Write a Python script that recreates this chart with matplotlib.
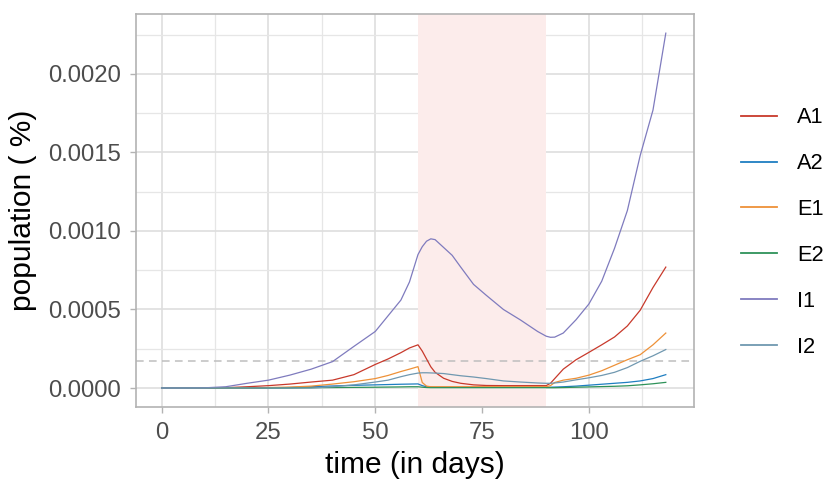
import numpy as np
import matplotlib
matplotlib.use("Agg")
import matplotlib.pyplot as plt
from matplotlib.ticker import MultipleLocator

# ---------- Data (values in units of 1e-4 of the population) ----------
days = [0, 5, 10, 15, 20, 25, 30, 35, 40, 45, 50, 53, 56, 58, 60, 61, 62, 63,
        64, 66, 68, 70, 73, 76, 80, 84, 88, 90, 91, 92, 94, 97, 100, 103, 106,
        109, 112, 115, 118]

a1 = [0, 0, 0, 0.02, 0.08, 0.15, 0.25, 0.38, 0.5, 0.85, 1.5, 1.85, 2.25, 2.55,
      2.75, 2.35, 1.85, 1.35, 1.0, 0.62, 0.42, 0.3, 0.2, 0.16, 0.15, 0.15,
      0.15, 0.15, 0.3, 0.6, 1.2, 1.8, 2.27, 2.75, 3.25, 3.95, 4.95, 6.4, 7.7]
a2 = [0, 0, 0, 0, 0, 0, 0.03, 0.08, 0.13, 0.17, 0.2, 0.22, 0.24, 0.25, 0.26,
      0.15, 0.08, 0.06, 0.05, 0.05, 0.05, 0.05, 0.05, 0.05, 0.05, 0.05, 0.05,
      0.05, 0.05, 0.06, 0.08, 0.12, 0.18, 0.24, 0.3, 0.36, 0.45, 0.6, 0.85]
e1 = [0, 0, 0, 0, 0, 0.03, 0.06, 0.12, 0.25, 0.4, 0.6, 0.8, 1.05, 1.2, 1.36,
      0.35, 0.12, 0.08, 0.08, 0.08, 0.08, 0.08, 0.08, 0.08, 0.08, 0.08, 0.08,
      0.08, 0.15, 0.35, 0.5, 0.62, 0.82, 1.1, 1.45, 1.8, 2.12, 2.75, 3.5]
e2 = [0, 0, 0, 0, 0, 0, 0, 0.02, 0.03, 0.04, 0.05, 0.06, 0.07, 0.08, 0.08,
      0.05, 0.03, 0.02, 0.02, 0.02, 0.02, 0.02, 0.02, 0.02, 0.02, 0.02, 0.02,
      0.02, 0.02, 0.02, 0.03, 0.05, 0.07, 0.09, 0.11, 0.14, 0.2, 0.27, 0.36]
i1 = [0, 0, 0.01, 0.08, 0.3, 0.5, 0.82, 1.2, 1.68, 2.65, 3.6, 4.6, 5.6, 6.75,
      8.5, 9.0, 9.35, 9.5, 9.45, 8.95, 8.45, 7.7, 6.6, 5.9, 5.0, 4.33, 3.6,
      3.3, 3.23, 3.24, 3.5, 4.35, 5.35, 6.8, 8.9, 11.3, 14.8, 17.7, 22.6]
i2 = [0, 0, 0, 0, 0, 0, 0, 0, 0.08, 0.2, 0.38, 0.5, 0.72, 0.85, 0.95, 0.97,
      0.97, 0.96, 0.95, 0.92, 0.85, 0.78, 0.7, 0.6, 0.45, 0.38, 0.32, 0.3,
      0.3, 0.32, 0.38, 0.52, 0.65, 0.8, 1.0, 1.3, 1.7, 2.05, 2.45]

series = {"A1": a1, "A2": a2, "E1": e1, "E2": e2, "I1": i1, "I2": i2}
colors = {"A1": "#C8392B", "A2": "#1F7EC1", "E1": "#EE9138", "E2": "#2E9259",
          "I1": "#7F7BBE", "I2": "#7098B0"}

shade_start, shade_end = 60, 90
threshold = 0.000172

# ---------- Style ----------
plt.rcParams.update({
    "font.family": ["Liberation Sans", "DejaVu Sans"],
    "font.size": 16,
})

fig = plt.figure(figsize=(8.26, 4.82), dpi=100)
ax = fig.add_axes([136 / 826, 1 - 407 / 482, (694 - 136) / 826, (407 - 14) / 482])

x = np.array(days)
ax.axvspan(shade_start, shade_end, color="#FCECEB", lw=0, zorder=1)
ax.axhline(threshold, color="#BEBEBE", lw=1.1, ls=(0, (5, 3.5)), zorder=2)

for name, vals in series.items():
    ax.plot(x, np.array(vals) * 1e-4, color=colors[name], lw=0.9, label=name,
            zorder=3)

ax.set_xlim(-6.0, 124.6)
ax.set_ylim(-0.000121, 0.002382)
ax.xaxis.set_major_locator(MultipleLocator(25))
ax.xaxis.set_minor_locator(MultipleLocator(12.5))
ax.yaxis.set_major_locator(MultipleLocator(0.0005))
ax.yaxis.set_minor_locator(MultipleLocator(0.00025))
ax.yaxis.set_major_formatter(lambda v, p: f"{v:.4f}")

ax.grid(which="major", color="#DEDEDE", lw=1.2, zorder=0)
ax.grid(which="minor", color="#E6E6E6", lw=0.9, zorder=0)
ax.set_axisbelow(True)
for s in ax.spines.values():
    s.set_color("#B3B3B3")
    s.set_linewidth(1.2)
ax.tick_params(which="major", length=4.3, width=1.0, color="#B3B3B3",
               labelcolor="#4D4D4D", labelsize=17.2, pad=6.3)
ax.tick_params(which="minor", length=0)

ax.set_xlabel("time (in days)", fontsize=21.5, labelpad=5)
ax.set_ylabel("population ( %)", fontsize=21.5, labelpad=8)

handles, labels = ax.get_legend_handles_labels()
leg = fig.legend(handles, labels, loc="center left",
                 bbox_to_anchor=(741 / 826, 1 - 232.5 / 482), frameon=False,
                 fontsize=15.7, handlelength=1.65, handletextpad=0.93,
                 labelspacing=1.14, borderpad=0, borderaxespad=0)
for ln in leg.get_lines():
    ln.set_linewidth(1.3)

fig.savefig("out.png", dpi=100)
